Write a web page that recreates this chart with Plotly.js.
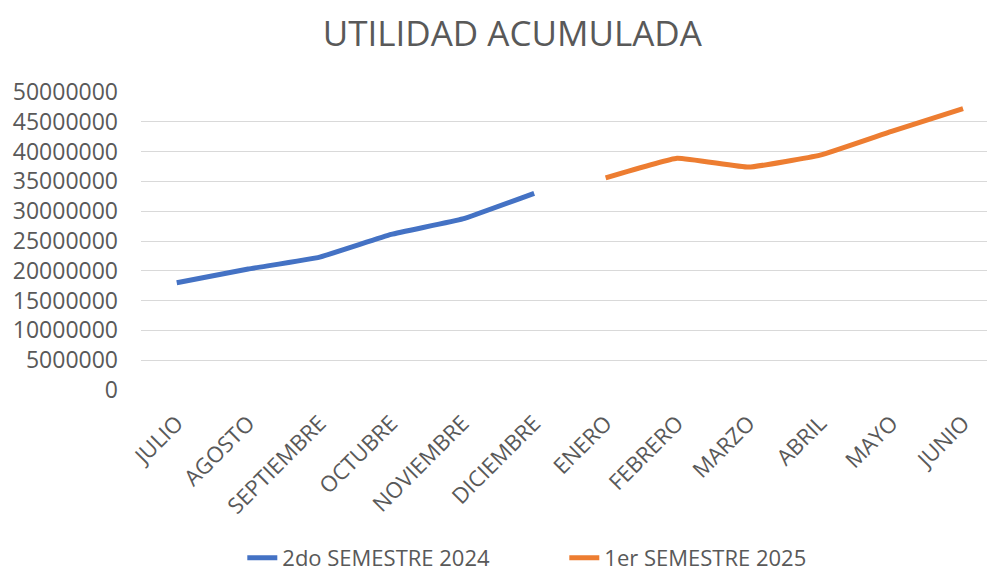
<!DOCTYPE html>
<html>
<head>
<meta charset="utf-8">
<script src="https://cdn.plot.ly/plotly-3.0.1.min.js"></script>
<style>
  html, body { margin: 0; padding: 0; background: #ffffff; }
  #chart { width: 987px; height: 574px; }
</style>
</head>
<body>
<div id="chart"></div>
<script>
const months = ["JULIO", "AGOSTO", "SEPTIEMBRE", "OCTUBRE", "NOVIEMBRE", "DICIEMBRE",
                "ENERO", "FEBRERO", "MARZO", "ABRIL", "MAYO", "JUNIO"];
const sem2024Months = ["JULIO", "AGOSTO", "SEPTIEMBRE", "OCTUBRE", "NOVIEMBRE", "DICIEMBRE"];
const sem2024Values = [18000000, 20300000, 22300000, 26100000, 28700000, 33000000];
const sem2025Months = ["ENERO", "FEBRERO", "MARZO", "ABRIL", "MAYO", "JUNIO"];
const sem2025Values = [35600000, 38900000, 37400000, 39400000, 43400000, 47200000];
const yTicks = [0, 5000000, 10000000, 15000000, 20000000, 25000000, 30000000, 35000000, 40000000, 45000000, 50000000];

const font = "'Open Sans', 'Noto Sans', sans-serif";
const grey = "#595959";

const traces = [
  {
    x: sem2024Months, y: sem2024Values, type: "scatter", mode: "lines",
    name: "2do SEMESTRE 2024",
    line: { color: "#4472C4", width: 5, shape: "spline", smoothing: 0.3 }
  },
  {
    x: sem2025Months, y: sem2025Values, type: "scatter", mode: "lines",
    name: "1er SEMESTRE 2025",
    line: { color: "#ED7D31", width: 5, shape: "spline", smoothing: 0.3 }
  }
];

const layout = {
  width: 987, height: 574,
  paper_bgcolor: "#ffffff", plot_bgcolor: "#ffffff",
  margin: { l: 141, r: 0, t: 92, b: 184, pad: 0 },
  title: {
    text: "UTILIDAD ACUMULADA",
    font: { family: font, size: 35, color: grey },
    x: 0.519, xanchor: "center", xref: "container",
    y: 0.942, yanchor: "middle", yref: "container"
  },
  xaxis: {
    type: "category",
    categoryorder: "array", categoryarray: months,
    range: [-0.5, 11.335],
    showgrid: false, zeroline: false, showline: false,
    ticks: "", tickangle: -45,
    ticklabelstandoff: 15,
    tickfont: { family: font, size: 22, color: grey }
  },
  yaxis: {
    range: [0, 50000000],
    tickvals: yTicks,
    ticktext: yTicks.map(v => String(v)),
    showgrid: true, gridcolor: "#D9D9D9", gridwidth: 1,
    zeroline: false, showline: false,
    ticks: "", ticklabelstandoff: 22,
    tickfont: { family: font, size: 23, color: grey }
  },
  showlegend: true,
  legend: {
    orientation: "h",
    xref: "container", yref: "container",
    x: 0.2455, xanchor: "left",
    y: 0.028, yanchor: "middle",
    font: { family: font, size: 22, color: grey },
    itemwidth: 30,
    entrywidth: 277
  }
};

Plotly.newPlot("chart", traces, layout, { displayModeBar: false, staticPlot: true });
</script>
</body>
</html>
